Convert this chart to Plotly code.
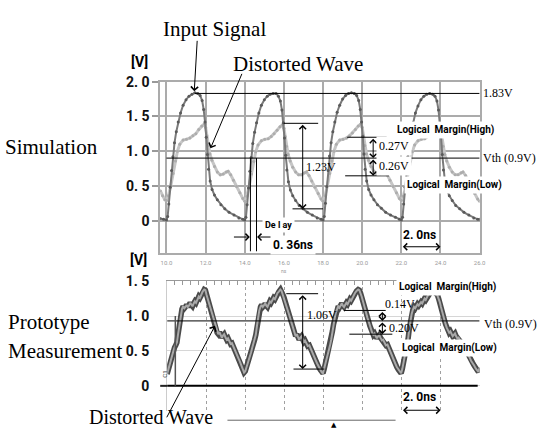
import plotly.graph_objects as go

# ---------------- data ----------------
# Simulation: input signal [ns], [V]
input_t = [9.68, 9.85, 10.0,
           10.06, 10.12, 10.19, 10.26, 10.33, 10.41, 10.5, 10.6, 10.72, 10.85, 11.0, 11.15, 11.3, 11.45, 11.6, 11.72,
           11.82, 11.9, 11.97, 12.03, 12.09, 12.15, 12.23, 12.33, 12.45, 12.6, 12.78, 12.98, 13.2, 13.45, 13.7, 13.9, 14.0,
           14.06, 14.12, 14.19, 14.26, 14.33, 14.41, 14.5, 14.6, 14.72, 14.85, 15.0, 15.15, 15.3, 15.45, 15.6, 15.72,
           15.82, 15.9, 15.97, 16.03, 16.09, 16.15, 16.23, 16.33, 16.45, 16.6, 16.78, 16.98, 17.2, 17.45, 17.7, 17.9, 18.0,
           18.06, 18.12, 18.19, 18.26, 18.33, 18.41, 18.5, 18.6, 18.72, 18.85, 19.0, 19.15, 19.3, 19.45, 19.6, 19.72,
           19.82, 19.9, 19.97, 20.03, 20.09, 20.15, 20.23, 20.33, 20.45, 20.6, 20.78, 20.98, 21.2, 21.45, 21.7, 21.9, 22.0,
           22.06, 22.12, 22.19, 22.26, 22.33, 22.41, 22.5, 22.6, 22.72, 22.85, 23.0, 23.15, 23.3, 23.45, 23.6, 23.72,
           23.82, 23.9, 23.97, 24.03, 24.09, 24.15, 24.23, 24.33, 24.45, 24.6, 24.78, 24.98, 25.2, 25.45, 25.7, 25.9, 26.0]
input_v = [0.03, 0.02, 0.01,
           0.06, 0.24, 0.48, 0.72, 0.92, 1.12, 1.28, 1.42, 1.55, 1.66, 1.74, 1.79, 1.82, 1.84, 1.83, 1.80,
           1.73, 1.60, 1.42, 1.20, 0.95, 0.74, 0.57, 0.45, 0.37, 0.30, 0.23, 0.17, 0.12, 0.08, 0.04, 0.02, 0.01,
           0.05, 0.23, 0.47, 0.71, 0.91, 1.11, 1.27, 1.41, 1.55, 1.66, 1.74, 1.79, 1.82, 1.83, 1.83, 1.79,
           1.72, 1.59, 1.41, 1.19, 0.94, 0.73, 0.56, 0.44, 0.36, 0.29, 0.22, 0.17, 0.12, 0.08, 0.04, 0.02, 0.01,
           0.06, 0.25, 0.49, 0.72, 0.93, 1.12, 1.28, 1.42, 1.56, 1.66, 1.75, 1.80, 1.83, 1.84, 1.83, 1.80,
           1.73, 1.60, 1.42, 1.21, 0.96, 0.74, 0.57, 0.45, 0.37, 0.30, 0.23, 0.18, 0.12, 0.08, 0.05, 0.02, 0.01,
           0.05, 0.24, 0.48, 0.71, 0.92, 1.11, 1.27, 1.41, 1.55, 1.65, 1.74, 1.79, 1.82, 1.83, 1.82, 1.79,
           1.72, 1.59, 1.41, 1.20, 0.95, 0.73, 0.56, 0.44, 0.36, 0.29, 0.22, 0.17, 0.12, 0.08, 0.04, 0.02, 0.02]

# Simulation: distorted wave
dist_t = [9.68, 9.8, 9.92,
          10.0, 10.1, 10.22, 10.34, 10.46, 10.56, 10.68, 10.85, 11.02, 11.2, 11.35, 11.5, 11.65, 11.8, 11.93, 12.0,
          12.06, 12.13, 12.22, 12.32, 12.45, 12.6, 12.75, 12.9, 13.05, 13.15, 13.28, 13.42, 13.58, 13.75, 13.9,
          14.0, 14.1, 14.22, 14.34, 14.46, 14.56, 14.68, 14.85, 15.02, 15.2, 15.35, 15.5, 15.65, 15.8, 15.93, 16.0,
          16.06, 16.13, 16.22, 16.32, 16.45, 16.6, 16.75, 16.9, 17.05, 17.15, 17.28, 17.42, 17.58, 17.75, 17.9,
          18.0, 18.1, 18.22, 18.34, 18.46, 18.56, 18.68, 18.85, 19.02, 19.2, 19.35, 19.5, 19.65, 19.8, 19.93, 20.0,
          20.06, 20.13, 20.22, 20.32, 20.45, 20.6, 20.75, 20.9, 21.05, 21.15, 21.28, 21.42, 21.58, 21.75, 21.9,
          22.0, 22.1, 22.22, 22.34, 22.46, 22.56, 22.68, 22.85, 23.02, 23.2, 23.35, 23.5, 23.65, 23.8, 23.93, 24.0,
          24.06, 24.13, 24.22, 24.32, 24.45, 24.6, 24.75, 24.9, 25.05, 25.15, 25.28, 25.42, 25.58, 25.75, 25.9, 26.0]
dist_v = [0.43, 0.36, 0.30,
          0.29, 0.36, 0.50, 0.68, 0.86, 1.00, 1.10, 1.16, 1.17, 1.19, 1.22, 1.25, 1.31, 1.36, 1.39, 1.34,
          1.22, 1.08, 0.96, 0.87, 0.78, 0.70, 0.66, 0.67, 0.70, 0.71, 0.66, 0.58, 0.49, 0.40, 0.32,
          0.28, 0.35, 0.49, 0.67, 0.85, 0.99, 1.09, 1.15, 1.17, 1.18, 1.21, 1.25, 1.30, 1.35, 1.38, 1.33,
          1.21, 1.07, 0.95, 0.86, 0.77, 0.70, 0.66, 0.66, 0.69, 0.70, 0.65, 0.57, 0.48, 0.39, 0.31,
          0.28, 0.36, 0.50, 0.68, 0.86, 1.00, 1.10, 1.16, 1.17, 1.19, 1.22, 1.26, 1.31, 1.36, 1.39, 1.34,
          1.22, 1.08, 0.96, 0.87, 0.78, 0.71, 0.67, 0.67, 0.70, 0.71, 0.66, 0.58, 0.49, 0.40, 0.32,
          0.29, 0.35, 0.49, 0.67, 0.85, 0.99, 1.09, 1.15, 1.17, 1.18, 1.21, 1.25, 1.30, 1.35, 1.38, 1.33,
          1.21, 1.07, 0.95, 0.86, 0.77, 0.70, 0.66, 0.66, 0.69, 0.70, 0.65, 0.57, 0.48, 0.39, 0.31, 0.28]

# Prototype measurement: distorted wave
meas_t = [10.0, 10.08, 10.14, 10.2, 10.26, 10.32, 10.38, 10.44, 10.5, 10.55, 10.6, 10.65, 10.7, 10.76, 10.82,
          10.88, 10.94, 11.0, 11.06, 11.12, 11.18, 11.24, 11.3, 11.36, 11.42, 11.48, 11.55, 11.62, 11.68, 11.75,
          11.82, 11.9, 11.96, 12.02, 12.08, 12.14, 12.2, 12.26, 12.32, 12.38, 12.44, 12.5, 12.56, 12.62, 12.68,
          12.74, 12.8, 12.86, 12.92, 12.98, 13.05, 13.12, 13.18, 13.25, 13.32, 13.4, 13.48, 13.56, 13.64, 13.72,
          13.8, 13.87, 13.94, 14.0, 14.06, 14.12, 14.18, 14.24, 14.3, 14.36, 14.42, 14.48, 14.54, 14.6, 14.66,
          14.72, 14.78, 14.84, 14.9, 14.96, 15.02, 15.08, 15.14, 15.2, 15.26, 15.32, 15.38, 15.45, 15.52, 15.58,
          15.65, 15.72, 15.8, 15.86, 15.92, 15.98, 16.04, 16.1, 16.16, 16.22, 16.28, 16.34, 16.4, 16.46, 16.52,
          16.58, 16.64, 16.7, 16.76, 16.82, 16.88, 16.94, 17.0, 17.06, 17.12, 17.2, 17.28, 17.36, 17.44, 17.52,
          17.6, 17.68, 17.76, 17.84, 17.92, 17.98, 18.04, 18.1, 18.16, 18.22, 18.28, 18.34, 18.4, 18.46, 18.52,
          18.58, 18.64, 18.7, 18.76, 18.82, 18.88, 18.94, 19.0, 19.06, 19.12, 19.18, 19.24, 19.3, 19.36, 19.42,
          19.48, 19.55, 19.62, 19.7, 19.78, 19.84, 19.9, 19.96, 20.02, 20.08, 20.14, 20.2, 20.26, 20.32, 20.38,
          20.44, 20.5, 20.56, 20.62, 20.68, 20.74, 20.8, 20.86, 20.92, 21.0, 21.06, 21.12, 21.2, 21.28, 21.36,
          21.44, 21.52, 21.6, 21.68, 21.76, 21.84, 21.92, 21.98, 22.04, 22.1, 22.16, 22.22, 22.28, 22.34, 22.4,
          22.46, 22.52, 22.58, 22.64, 22.7, 22.76, 22.82, 22.88, 22.94, 23.0, 23.06, 23.12, 23.18, 23.24, 23.3,
          23.36, 23.44, 23.52, 23.6, 23.66, 23.72, 23.78, 23.84, 23.9, 23.96, 24.02, 24.08, 24.14, 24.2, 24.26,
          24.32, 24.38, 24.44, 24.5, 24.56, 24.62, 24.68, 24.74, 24.8, 24.86, 24.92, 25.0, 25.08, 25.16, 25.24,
          25.32, 25.4, 25.48, 25.56, 25.64, 25.72, 25.8, 25.88, 25.94, 26.0]
meas_v = [0.17, 0.26, 0.33, 0.40, 0.46, 0.50, 0.55, 0.58, 0.62, 0.72, 0.82, 0.95, 1.05, 1.10, 1.14,
          1.11, 1.13, 1.16, 1.13, 1.15, 1.19, 1.16, 1.14, 1.18, 1.21, 1.19, 1.24, 1.28, 1.26, 1.31,
          1.35, 1.38, 1.37, 1.30, 1.24, 1.18, 1.12, 1.06, 1.01, 0.94, 0.88, 0.82, 0.76, 0.74, 0.77,
          0.73, 0.69, 0.72, 0.74, 0.70, 0.66, 0.68, 0.64, 0.60, 0.61, 0.55, 0.50, 0.46, 0.40, 0.35,
          0.29, 0.24, 0.19, 0.21, 0.26, 0.32, 0.37, 0.42, 0.48, 0.55, 0.60, 0.66, 0.73, 0.86, 1.00,
          1.08, 1.13, 1.16, 1.13, 1.15, 1.18, 1.15, 1.13, 1.17, 1.21, 1.19, 1.23, 1.26, 1.24, 1.29,
          1.33, 1.35, 1.38, 1.36, 1.31, 1.27, 1.22, 1.16, 1.10, 1.04, 0.99, 0.93, 0.88, 0.83, 0.77,
          0.71, 0.74, 0.70, 0.66, 0.69, 0.71, 0.67, 0.63, 0.65, 0.61, 0.57, 0.58, 0.52, 0.47, 0.42,
          0.37, 0.32, 0.27, 0.23, 0.19, 0.18, 0.24, 0.31, 0.38, 0.44, 0.52, 0.58, 0.66, 0.78, 0.88,
          0.97, 1.05, 1.10, 1.14, 1.12, 1.15, 1.18, 1.15, 1.13, 1.16, 1.19, 1.17, 1.21, 1.24, 1.22,
          1.26, 1.30, 1.33, 1.36, 1.38, 1.37, 1.33, 1.28, 1.22, 1.15, 1.09, 1.03, 0.97, 0.92, 0.86,
          0.80, 0.76, 0.73, 0.75, 0.71, 0.68, 0.71, 0.73, 0.69, 0.65, 0.66, 0.62, 0.58, 0.59, 0.53,
          0.47, 0.42, 0.37, 0.32, 0.27, 0.23, 0.19, 0.18, 0.24, 0.32, 0.40, 0.48, 0.57, 0.68, 0.82,
          0.94, 1.03, 1.09, 1.13, 1.11, 1.14, 1.17, 1.15, 1.18, 1.20, 1.18, 1.21, 1.25, 1.23, 1.27,
          1.30, 1.32, 1.35, 1.37, 1.35, 1.33, 1.34, 1.30, 1.25, 1.20, 1.13, 1.06, 1.00, 0.94, 0.88,
          0.83, 0.79, 0.76, 0.78, 0.74, 0.71, 0.73, 0.75, 0.71, 0.68, 0.69, 0.65, 0.61, 0.59, 0.54,
          0.50, 0.46, 0.41, 0.36, 0.33, 0.29, 0.25, 0.21, 0.20, 0.26]

time_ticks = [10, 12, 14, 16, 18, 20, 22, 24, 26]
time_labels = ["10.0", "12.0", "14.0", "16.0", "18.0", "20.0", "22.0", "24.0", "26.0"]
meas_grid_t = [12, 14, 16, 18, 20, 22, 24]
sim_ticks = [0, 0.5, 1.0, 1.5, 2.0]
sim_labels = ["0", "0. 5", "1. 0", "1. 5", "2. 0"]
meas_ticks = [0, 0.5, 1.0, 1.5]
meas_labels = ["0", "0. 5", "1. 0", "1. 5"]

# measured / annotated levels
sim_vth = 0.9
sim_peak = 1.83
sim_swing = [1.40, 0.17]        # 1.23 V
sim_margin = [1.20, 0.645]      # 0.27 V / 0.26 V
sim_delay = [14.29, 14.60]      # 0.36 ns
meas_vth = 0.93
meas_swing = [1.32, 0.24]       # 1.06 V
meas_margin = [1.08, 0.74]      # 0.14 V / 0.20 V
period_mark = [22, 24]          # 2.0 ns

# ---------------- figure ----------------
W, H = 542, 431
SERIF = "Liberation Serif, Times New Roman, serif"
COND = "Roboto, Liberation Sans, Arial, sans-serif"


def px(x):
    return x / W


def py(y):
    return 1 - y / H


fig = go.Figure()

fig.add_trace(go.Scatter(x=dist_t, y=dist_v, mode="lines+markers", xaxis="x", yaxis="y",
                         line=dict(color="#c6c6c6", width=3), marker=dict(size=3, color="#adadad"),
                         showlegend=False, hoverinfo="skip"))
fig.add_trace(go.Scatter(x=input_t, y=input_v, mode="lines+markers", xaxis="x", yaxis="y",
                         line=dict(color="#7a7a7a", width=2), marker=dict(size=3, color="#5a5a5a"),
                         showlegend=False, hoverinfo="skip"))
fig.add_trace(go.Scatter(x=meas_t, y=meas_v, mode="lines", xaxis="x2", yaxis="y2",
                         line=dict(color="#4a4a4a", width=5.5), showlegend=False, hoverinfo="skip"))
fig.add_trace(go.Scatter(x=meas_t, y=meas_v, mode="lines", xaxis="x2", yaxis="y2",
                         line=dict(color="#a9a9a9", width=2), showlegend=False, hoverinfo="skip"))
fig.add_trace(go.Scatter(x=[None], y=[None], xaxis="x3", yaxis="y2", showlegend=False, hoverinfo="skip"))

shapes = []


def hline(xr, yr, x0, x1, y, w=1, color="black"):
    shapes.append(dict(type="line", xref=xr, yref=yr, x0=x0, x1=x1, y0=y, y1=y,
                       line=dict(color=color, width=w)))


def vline(xr, yr, x, y0, y1, w=1, color="black"):
    shapes.append(dict(type="line", xref=xr, yref=yr, x0=x, x1=x, y0=y0, y1=y1,
                       line=dict(color=color, width=w)))


# simulation guides
hline("x", "y", 10.0, 26.0, sim_vth)
hline("x", "y", 11.45, 26.0, sim_peak)
vline("x", "y", sim_delay[0], sim_vth, -0.44)
vline("x", "y", sim_delay[1], sim_vth, -0.44)
hline("x", "y", 15.99, 17.75, sim_swing[0])
hline("x", "y", 16.44, 18.0, sim_swing[1])
hline("x", "y", 19.23, 21.25, sim_margin[0])
hline("x", "y", 19.13, 21.37, sim_margin[1])
# measurement guides
hline("x2", "y2", 10.0, 26.0, meas_vth)
hline("x2", "y2", 10.0, 25.9, 0, w=2)
vline("x2", "y2", 10.42, 0, 1.0, w=1.5, color="#555555")
hline("x2", "y2", 16.1, 17.73, meas_swing[0])
hline("x2", "y2", 16.47, 18.05, meas_swing[1])
hline("x2", "y2", 19.06, 21.19, meas_margin[0])
hline("x2", "y2", 19.33, 21.53, meas_margin[1])
# decorations outside the plot areas
shapes.append(dict(type="line", xref="paper", yref="paper", x0=px(162), x1=px(169), y0=py(385), y1=py(385),
                   line=dict(color="#222", width=2)))
shapes.append(dict(type="line", xref="paper", yref="paper", x0=px(230), x1=px(400), y0=py(420), y1=py(420),
                   line=dict(color="#666", width=1)))

ann = []


def arrow(xr, yr, x0, y0, x1, y1, both=True):
    ann.append(dict(xref=xr, yref=yr, axref=xr, ayref=yr, x=x1, y=y1, ax=x0, ay=y0, text="",
                    showarrow=True, arrowhead=4, startarrowhead=4, arrowsize=1.3, startarrowsize=1.3,
                    arrowwidth=1, arrowcolor="black", standoff=0, startstandoff=0,
                    arrowside="end+start" if both else "end"))


def ptr(xr, yr, x, y, dx, dy):
    ann.append(dict(xref=xr, yref=yr, x=x, y=y, ax=dx, ay=dy, text="", showarrow=True,
                    arrowhead=4, arrowsize=1.4, arrowwidth=1, arrowcolor="black", standoff=0))


def txt(xr, yr, x, y, s, size, font=SERIF, bold=False, xanchor="center", bg=None, color="black", angle=0):
    d = dict(xref=xr, yref=yr, x=x, y=y, text=s, showarrow=False, xanchor=xanchor, yanchor="middle",
             font=dict(family=font, size=size, color=color, weight="bold" if bold else "normal"),
             textangle=angle)
    if bg:
        d.update(bgcolor=bg, borderpad=2)
    ann.append(d)


# arrows
arrow("x", "y", 16.96, sim_swing[0], 16.96, sim_swing[1])
arrow("x", "y", 20.56, sim_margin[0], 20.56, sim_vth)
arrow("x", "y", 20.56, sim_vth, 20.56, sim_margin[1])
arrow("x", "y", period_mark[0], -0.375, period_mark[1], -0.375)
arrow("x", "y", 13.37, -0.235, 14.26, -0.235, both=False)
arrow("x", "y", 15.49, -0.235, 14.63, -0.235, both=False)
arrow("x2", "y2", 16.94, meas_swing[0], 16.94, meas_swing[1])
arrow("x2", "y2", 21.02, meas_margin[0], 21.02, meas_vth)
arrow("x2", "y2", 21.02, meas_vth, 21.02, meas_margin[1])
arrow("x2", "y2", period_mark[0], -0.35, period_mark[1], -0.35)
ptr("x", "y", 11.42, 1.86, 3, -52)
ptr("x", "y", 12.25, 1.04, 32, -76)
ptr("x2", "y2", 12.45, 0.86, -49, 93)

# texts inside plots
txt("x", "y", 17.02, 0.77, "1.23V", 12, xanchor="left")
txt("x", "y", 20.72, 1.07, "0.27V", 12, xanchor="left", bg="white")
txt("x", "y", 20.72, 0.78, "0.26V", 12, xanchor="left", bg="white")
txt("x", "y", 24.28, 1.31, "Logical  Margin(High)", 10, font=COND, bold=True, bg="white")
txt("x", "y", 24.73, 0.51, "Logical  Margin(Low)", 10, font=COND, bold=True, bg="white")
txt("x", "y", 22.92, -0.21, "2. 0ns", 12, font=COND, bold=True)
txt("x", "y", 15.72, -0.06, "De l ay", 9, font=COND, bold=True, bg="white")
txt("x", "y", 16.45, -0.35, "0. 36ns", 12, font=COND, bold=True, bg="white")
txt("x2", "y2", 17.04, 1.02, "1.06V", 12, xanchor="left")
txt("x2", "y2", 21.05, 1.17, "0.14V", 12, xanchor="left")
txt("x2", "y2", 21.25, 0.825, "0.20V", 12, xanchor="left")
txt("x2", "y2", 24.35, 1.41, "Logical  Margin(High)", 10, font=COND, bold=True, bg="white")
txt("x2", "y2", 24.48, 0.54, "Logical  Margin(Low)", 10, font=COND, bold=True, bg="white")
txt("x2", "y2", 22.94, -0.155, "2. 0ns", 12, font=COND, bold=True)

# texts outside plots
txt("paper", "paper", px(217), py(21.7), "Input Signal", 21)
txt("paper", "paper", px(301), py(56.7), "Distorted Wave", 21)
txt("paper", "paper", px(153), py(417), "Distorted Wave", 20)
txt("paper", "paper", px(101), py(142), "Simulation", 21, xanchor="right")
txt("paper", "paper", px(6), py(320), "Prototype", 21, xanchor="left")
txt("paper", "paper", px(6), py(349), "Measurement", 21, xanchor="left")
txt("paper", "paper", px(486), py(87), "1.83V", 12, xanchor="left")
txt("paper", "paper", px(486), py(152.5), "Vth (0.9V)", 12, xanchor="left")
txt("paper", "paper", px(487), py(321.5), "Vth (0.9V)", 12, xanchor="left")
txt("paper", "paper", px(141), py(55), "[V]", 14, font=COND, bold=True)
txt("paper", "paper", px(140), py(256.5), "[V]", 14, font=COND, bold=True)
txt("paper", "paper", px(287), py(268), "ns", 5, font=COND, color="#999")
txt("paper", "paper", px(165.5), py(373), "C1", 6, font=COND, color="#444", angle=-90)
txt("paper", "paper", px(338), py(425), "▲", 7, font="DejaVu Sans")

grid_col = "#ababab"
fig.update_layout(
    width=W, height=H, margin=dict(l=0, r=0, t=0, b=0),
    paper_bgcolor="white", plot_bgcolor="white", showlegend=False,
    xaxis=dict(domain=[px(162), px(485)], range=[9.68, 26.0], anchor="y",
               tickvals=time_ticks, ticktext=time_labels, tickfont=dict(family=COND, size=6, color="#9a9a9a"),
               ticks="outside", ticklen=3, tickcolor="rgba(0,0,0,0)",
               showgrid=True, gridcolor=grid_col, gridwidth=1.5, zeroline=False,
               showline=True, linecolor=grid_col, linewidth=1.5, mirror=True),
    yaxis=dict(domain=[py(250), py(75)], range=[-0.47, 2.0], anchor="x",
               tickvals=sim_ticks, ticktext=sim_labels,
               tickfont=dict(family=COND, size=14, color="#111", weight="bold"),
               ticks="outside", ticklen=6, tickcolor="#999", tickwidth=1.5,
               showgrid=True, gridcolor=grid_col, gridwidth=1.5, zeroline=False,
               showline=True, linecolor=grid_col, linewidth=1.5, mirror=True),
    xaxis2=dict(domain=[px(169), px(485)], range=[10.0, 26.0], anchor="y2",
                tickvals=meas_grid_t, showticklabels=False, ticks="",
                showgrid=True, gridcolor="#a0a0a0", griddash="dot", gridwidth=1,
                zeroline=False, showline=False),
    yaxis2=dict(domain=[py(411), py(278.3)], range=[-0.366, 1.5], anchor="x2",
                tickvals=meas_ticks, ticktext=meas_labels,
                tickfont=dict(family=COND, size=14, color="#111", weight="bold"),
                ticks="outside", ticklen=14, tickcolor="rgba(0,0,0,0)",
                showgrid=True, gridcolor="#d6d6d6", gridwidth=1, zeroline=False,
                showline=True, linecolor="#cccccc", linewidth=1),
    xaxis3=dict(overlaying="x2", side="top", anchor="y2", range=[10.0, 26.0],
                tick0=10, dtick=0.4, ticks="inside", ticklen=4, tickcolor="#999",
                showline=True, linecolor="#999", linewidth=1,
                showticklabels=False, showgrid=False, zeroline=False),
    shapes=shapes, annotations=ann,
)

fig.write_html("out.html", config={"displayModeBar": False},
               post_script="document.body.style.margin='0';")
